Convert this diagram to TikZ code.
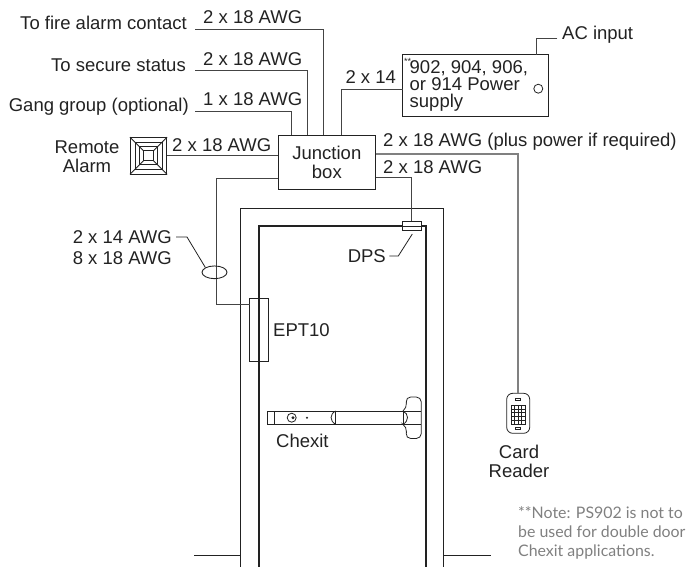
\documentclass[tikz,border=0pt]{standalone}
\usepackage{tikz}
\usetikzlibrary{shapes.geometric}
\usepackage{fontspec}
\setmainfont{Liberation Sans}
\newfontfamily\notefont{Lato}
\definecolor{wirecol}{HTML}{444444}
\definecolor{inkcol}{HTML}{222222}
\tikzset{
    wire/.style={draw=wirecol,line width=1pt},
    greywire/.style={draw=gray,line width=1.6pt},
    thin part/.style={draw=inkcol,line width=0.8pt},
    doorline/.style={draw=inkcol,line width=1.2pt},
    label/.style={inner sep=0pt,text=inkcol,font=\fontsize{18.5}{18}\selectfont,align=center},
    part/.style={thin part,inner sep=0pt,minimum width=#1},
}
\begin{document}
\begin{tikzpicture}[x=1pt,y=-1pt]
    \useasboundingbox (0,0) rectangle (699,567);

    % door and frame
    \draw[doorline](240.7,567)--(240.7,208.3)--(443.3,208.3)--(443.3,567);
    \draw[draw=inkcol,line width=1.8pt](259,567)--(259,226)--(425.7,226)--(425.7,567);
    \draw[thin part](194,555.3)--(240.7,555.3);
    \draw[thin part](443.3,555.3)--(490.7,555.3);

    % boxes
    \node[part=97.7pt,minimum height=53.8pt,label,draw=inkcol,line width=1pt](junction)at(326.85,162.4){Junction\\[1pt]box};
    \node[part=146pt,minimum height=62pt,draw=inkcol,line width=1pt](power)at(475.7,85.7){};
    \node[part=36.4pt,minimum height=36.4pt](alarm)at(148.5,155.8){};
    \node[part=18.3pt,minimum height=9.3pt,fill=white](dps)at(411.8,225.6){};
    \node[part=18.5pt,minimum height=63.3pt](ept)at(258.7,329.6){};
    \node[part=23pt,minimum height=40pt,rounded corners=6pt](reader)at(518.2,413.3){};
    \draw[thin part](402.7,226)--(421,226);

    % remote alarm rings
    \foreach \r in {13.5,9,5}{
        \draw[thin part](148.5-\r,155.8-\r)rectangle(148.5+\r,155.8+\r);
    }
    \draw[thin part](alarm.north west)--(143.5,150.8);
    \draw[thin part](alarm.north east)--(153.5,150.8);
    \draw[thin part](alarm.south west)--(143.5,160.8);
    \draw[thin part](alarm.south east)--(153.5,160.8);

    % wires
    \coordinate(firefree)at(195,29.3);
    \coordinate(securefree)at(195,70.7);
    \coordinate(gangfree)at(195,112);
    \coordinate(acfree)at(557.3,38.3);
    \coordinate(jfire)at(323.7,135.5);
    \coordinate(jsecure)at(307.3,135.5);
    \coordinate(jgang)at(291.7,135.5);
    \coordinate(jpower)at(341.7,135.5);
    \coordinate(jept)at(278,178.3);
    \coordinate(jreader)at(375.7,154.3);
    \coordinate(jdps)at(375.7,178);
    \coordinate(pin)at(402.7,89.3);
    \coordinate(pac)at(536.3,54.7);
    \coordinate(eptin)at(249.5,304);
    \draw[wire](firefree)-|(jfire);
    \draw[wire](securefree)-|(jsecure);
    \draw[wire](gangfree)-|(jgang);
    \draw[wire](alarm.east|-0,156)--(junction.west|-0,156);
    \draw[wire](jpower)|-(pin);
    \draw[wire](acfree)-|(pac);
    \draw[wire](jept)-|(216.7,304)--(eptin);
    \draw[wire](jdps)-|(dps.north);
    \draw[greywire](jreader)-|(reader.north);

    % cable ring and its leader
    \node[draw=inkcol,line width=0.9pt,ellipse,minimum width=25pt,minimum height=12.7pt,inner sep=0pt](ring)at(214.5,272.3){};
    \coordinate(cablefree)at(176,237);
    \draw[thin part](cablefree)--(187,237)--(ring.north west);

    % dps leader
    \coordinate(dpsfree)at(412.3,234);
    \draw[thin part](dpsfree)--(398.3,256)--(389.3,256);

    % power supply details
    \node[draw=inkcol,line width=0.8pt,circle,minimum size=9pt,inner sep=0pt](lamp)at(538.3,88.7){};

    % card reader
    \draw[thin part](515.7,398.2)rectangle(520.7,400.6);
    \draw[thin part](515.7,427.2)rectangle(520.7,429.6);
    \draw[thin part](511,405.3)rectangle(525,424);
    \foreach \x in {514.5,518,521.5}{
        \draw[thin part,line width=0.6pt](\x,405.3)--(\x,424);
    }
    \foreach \y in {409,412.7,416.4,420.1}{
        \draw[thin part,line width=0.6pt](511,\y)--(525,\y);
    }

    % chexit bar
    \draw[thin part](421,411)--(267.3,411)--(267.3,424.3)--(421,424.3);
    \draw[thin part](274.7,411)--(274.7,424.3);
    \draw[thin part](291.7,417.7)circle(4.5);
    \fill[inkcol](293,417.7)circle(1.6);
    \fill[inkcol](307,417.7)circle(1.1);
    \draw[thin part](335.7,411)--(335.7,424.3);
    \draw[thin part](335.7,411)..controls(329.5,414)and(329.5,421)..(335.7,424.3);
    \draw[thin part](403,411)--(403,424.3);
    \draw[thin part](403,411)..controls(409,414)and(409,421)..(403,424.3);
    \draw[thin part,rounded corners=5pt](403,411)--(407,408)--(405.7,397)--(421.3,397)--(421.3,438.5)--(405.7,438.5)--(407,427)--(403,424.3);

    % labels
    \node[label,anchor=east](firelabel)at(187,23.3){To fire alarm contact};
    \node[label,anchor=east](securelabel)at(186,65.7){To secure status};
    \node[label,anchor=east](ganglabel)at(189,107){Gang group (optional)};
    \node[label](alarmlabel)at(87,157){Remote\\[1pt]Alarm};
    \node[label,anchor=west](firewire)at(203,17.3){2 x 18 AWG};
    \node[label,anchor=west](securewire)at(203,59){2 x 18 AWG};
    \node[label,anchor=west](gangwire)at(203,99.3){1 x 18 AWG};
    \node[label,anchor=west](alarmwire)at(172,145){2 x 18 AWG};
    \node[label,anchor=west](powerwire)at(345.3,76.7){2 x 14};
    \node[label,anchor=west](acinput)at(562,35){AC input};
    \node[label,anchor=west,align=left,font=\fontsize{18.5}{17.3}\selectfont](powerlabel)at(409.5,86){902, 904, 906,\\or 914 Power\\supply};
    \node[anchor=west,inner sep=0pt,font=\fontsize{9}{9}\selectfont,text=inkcol](stars)at(404,61.5){**};
    \node[label,anchor=west](readerwire)at(383,141.7){2 x 18 AWG (plus power if required)};
    \node[label,anchor=west](dpswire)at(383,166.7){2 x 18 AWG};
    \node[label,anchor=east,align=center](cablelabel)at(172,248){2 x 14 AWG\\[3pt]8 x 18 AWG};
    \node[label,anchor=east](dpslabel)at(386,256){DPS};
    \node[label,anchor=west](eptlabel)at(273,330){EPT10};
    \node[label,anchor=west](chexitlabel)at(276,441){Chexit};
    \node[label](readerlabel)at(519,461){Card\\[1pt]Reader};
    \node[anchor=north west,inner sep=0pt,align=left,text=gray,font=\notefont\fontsize{15.9}{19}\selectfont](notelabel)at(518,506){**Note: PS902 is not to\\be used for double door\\Chexit applications.};
\end{tikzpicture}
\end{document}
